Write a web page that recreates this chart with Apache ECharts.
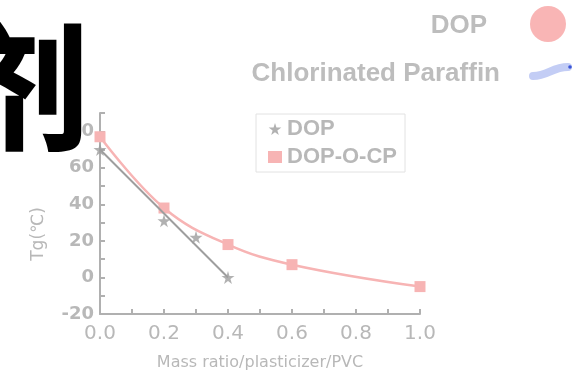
<!DOCTYPE html>
<html>
<head>
<meta charset="utf-8">
<script src="https://cdn.jsdelivr.net/npm/echarts@6/dist/echarts.min.js"></script>
<style>
  html, body { margin: 0; padding: 0; background: #fff; }
  #main { width: 577px; height: 376px; }
</style>
</head>
<body>
<div id="main"></div>
<script>
// DOP measured points (stars)
var dopPoints = [[0, 70], [0.2, 31], [0.3, 22], [0.4, 0]];
// DOP linear fit
var dopFit = [[0, 70], [0.4, 0]];
// DOP-O-CP measured points (squares)
var cpPoints = [[0, 77], [0.2, 38], [0.4, 18], [0.6, 7], [1.0, -5]];

var seriesNames = ['DOP', 'DOP-O-CP'];
var yLabels = [-20, 0, 20, 40, 60, 80];
var xLabels = [0, 0.2, 0.4, 0.6, 0.8, 1.0];

var gray = '#9e9e9e';
var pink = '#f7b4b4';
var textGray = '#b8b8b8';
var star = 'path://M50,0 L61,35 L98,35 L68,57 L79,91 L50,70 L21,91 L32,57 L2,35 L39,35 Z';

var myChart = echarts.init(document.getElementById('main'));
myChart.setOption({
  animation: false,
  backgroundColor: '#fff',
  grid: { left: 100, right: 157, top: 113, bottom: 57 },
  legend: {
    left: 256, top: 114,
    orient: 'vertical',
    itemGap: 6,
    itemWidth: 14, itemHeight: 12,
    padding: [4, 8, 4, 12],
    borderColor: '#e2e2e2', borderWidth: 1,
    textStyle: { color: textGray, fontSize: 22, fontWeight: 'bold', fontFamily: 'Liberation Sans' },
    data: [
      { name: seriesNames[0], icon: star },
      { name: seriesNames[1], icon: 'rect' }
    ]
  },
  xAxis: {
    type: 'value', min: 0, max: 1, interval: 0.1,
    name: 'Mass ratio/plasticizer/PVC',
    nameLocation: 'middle', nameGap: 41,
    nameTextStyle: { color: textGray, fontSize: 16, fontFamily: 'DejaVu Sans' },
    axisLine: { onZero: false, lineStyle: { color: '#b0b0b0', width: 2 } },
    axisTick: { inside: true, length: 5, lineStyle: { color: '#b0b0b0', width: 2 } },
    splitLine: { show: false },
    axisLabel: {
      color: textGray, fontSize: 20, fontFamily: 'DejaVu Sans', margin: 10,
      formatter: function (v) {
        var r = Math.round(v * 10);
        return xLabels.some(function (l) { return Math.round(l * 10) === r; }) ? v.toFixed(1) : '';
      }
    }
  },
  yAxis: {
    type: 'value', min: -20, max: 90, interval: 10,
    axisLine: { show: true, onZero: false, lineStyle: { color: '#b0b0b0', width: 2 } },
    axisTick: { show: true, inside: true, length: 5, lineStyle: { color: '#b0b0b0', width: 2 } },
    splitLine: { show: false },
    axisLabel: {
      color: textGray, fontSize: 18, fontWeight: 'bold', fontFamily: 'DejaVu Sans', margin: 6,
      formatter: function (v) { return yLabels.indexOf(v) >= 0 ? String(v) : ''; }
    }
  },
  series: [
    {
      name: seriesNames[0], type: 'scatter', data: dopPoints,
      symbol: star, symbolSize: 13,
      itemStyle: { color: gray }, z: 4
    },
    {
      name: 'DOP fit', type: 'line', data: dopFit,
      showSymbol: false, lineStyle: { color: gray, width: 2 },
      itemStyle: { color: gray }, z: 3
    },
    {
      name: seriesNames[1], type: 'line', data: cpPoints, smooth: 0.4,
      symbol: 'rect', symbolSize: 11,
      lineStyle: { color: pink, width: 2.5 },
      itemStyle: { color: pink }, z: 2
    }
  ],
  graphic: [
    {
      type: 'text', x: 39, y: 234, rotation: Math.PI / 2, z: 10,
      style: { text: 'Tg(\u2103)', fill: textGray, font: '17px "DejaVu Sans"', textAlign: 'center', textVerticalAlign: 'middle' }
    },
    {
      type: 'text', x: -48, y: 20, z: 20,
      style: { text: '剂', fill: '#000', font: '900 136px "Noto Sans CJK SC"' }
    },
    {
      type: 'text', x: 487, y: 26, z: 10,
      style: { text: 'DOP', fill: '#bdbdbd', font: 'bold 26px "Liberation Sans"', textAlign: 'right', textVerticalAlign: 'middle' }
    },
    {
      type: 'circle', shape: { cx: 548, cy: 24, r: 18 }, z: 10,
      style: { fill: '#f9b5b5' }
    },
    {
      type: 'text', x: 500, y: 74, z: 10,
      style: { text: 'Chlorinated Paraffin', fill: '#bdbdbd', font: 'bold 26px "Liberation Sans"', textAlign: 'right', textVerticalAlign: 'middle' }
    },
    {
      type: 'bezierCurve', z: 10,
      shape: { x1: 533, y1: 76, cpx1: 548, cpy1: 76, cpx2: 552, cpy2: 67, x2: 568, y2: 67 },
      style: { stroke: '#c3cdf5', lineWidth: 8, lineCap: 'round', fill: null }
    },
    {
      type: 'circle', shape: { cx: 570, cy: 67, r: 1.8 }, z: 11,
      style: { fill: '#3a55d8' }
    }
  ]
});
</script>
</body>
</html>
